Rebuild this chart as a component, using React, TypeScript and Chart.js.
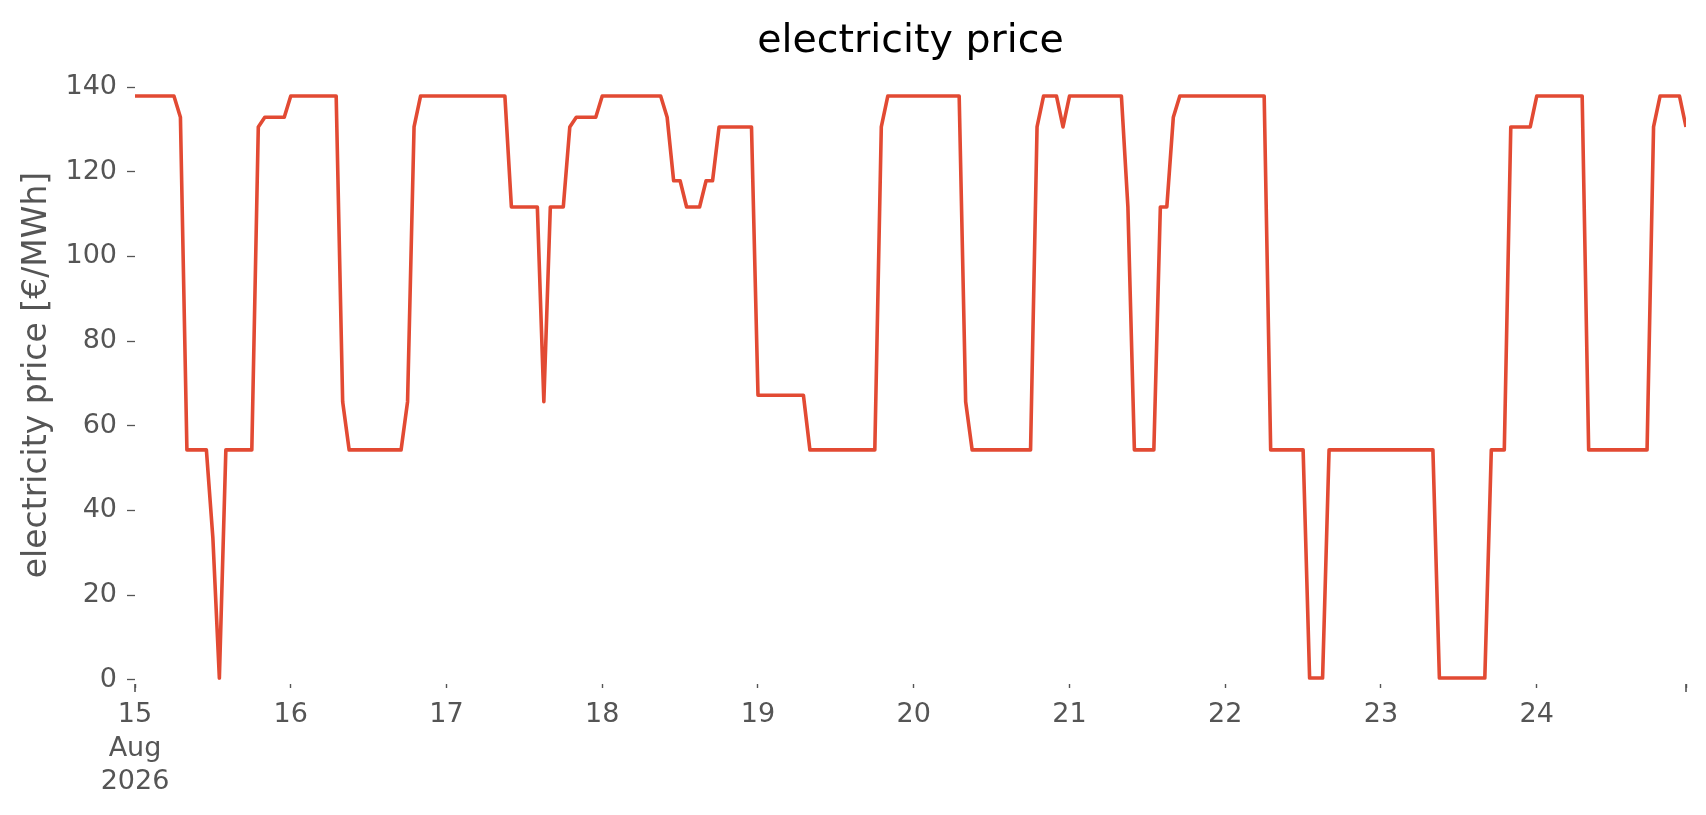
import React, { useEffect, useRef } from 'react';
import { Chart, registerables } from 'chart.js';

Chart.register(...registerables);

const titleText = 'electricity price';
const yAxisLabel = 'electricity price [€/MWh]';
const dayLabels = ['15', '16', '17', '18', '19', '20', '21', '22', '23', '24'];
const monthLabel = 'Aug';
const yearLabel = '2026';
const yTickValues = [0, 20, 40, 60, 80, 100, 120, 140];

// hourly price [€/MWh], 15 Aug 00:00 -> 24 Aug 23:00
const prices = [
  // 15
  137.9, 137.9, 137.9, 137.9, 137.9, 137.9, 137.9, 132.9, 54.3, 54.3, 54.3, 54.3,
  33.5, 0.4, 54.3, 54.3, 54.3, 54.3, 54.3, 130.6, 132.9, 132.9, 132.9, 132.9,
  // 16
  137.9, 137.9, 137.9, 137.9, 137.9, 137.9, 137.9, 137.9, 65.7, 54.3, 54.3, 54.3,
  54.3, 54.3, 54.3, 54.3, 54.3, 54.3, 65.7, 130.6, 137.9, 137.9, 137.9, 137.9,
  // 17
  137.9, 137.9, 137.9, 137.9, 137.9, 137.9, 137.9, 137.9, 137.9, 137.9, 111.7, 111.7,
  111.7, 111.7, 111.7, 65.7, 111.7, 111.7, 111.7, 130.6, 132.9, 132.9, 132.9, 132.9,
  // 18
  137.9, 137.9, 137.9, 137.9, 137.9, 137.9, 137.9, 137.9, 137.9, 137.9, 132.9, 117.9,
  117.9, 111.7, 111.7, 111.7, 117.9, 117.9, 130.6, 130.6, 130.6, 130.6, 130.6, 130.6,
  // 19
  67.2, 67.2, 67.2, 67.2, 67.2, 67.2, 67.2, 67.2, 54.3, 54.3, 54.3, 54.3,
  54.3, 54.3, 54.3, 54.3, 54.3, 54.3, 54.3, 130.6, 137.9, 137.9, 137.9, 137.9,
  // 20
  137.9, 137.9, 137.9, 137.9, 137.9, 137.9, 137.9, 137.9, 65.7, 54.3, 54.3, 54.3,
  54.3, 54.3, 54.3, 54.3, 54.3, 54.3, 54.3, 130.6, 137.9, 137.9, 137.9, 130.6,
  // 21
  137.9, 137.9, 137.9, 137.9, 137.9, 137.9, 137.9, 137.9, 137.9, 111.7, 54.3, 54.3,
  54.3, 54.3, 111.7, 111.7, 132.9, 137.9, 137.9, 137.9, 137.9, 137.9, 137.9, 137.9,
  // 22
  137.9, 137.9, 137.9, 137.9, 137.9, 137.9, 137.9, 54.3, 54.3, 54.3, 54.3, 54.3,
  54.3, 0.4, 0.4, 0.4, 54.3, 54.3, 54.3, 54.3, 54.3, 54.3, 54.3, 54.3,
  // 23
  54.3, 54.3, 54.3, 54.3, 54.3, 54.3, 54.3, 54.3, 54.3, 0.4, 0.4, 0.4,
  0.4, 0.4, 0.4, 0.4, 0.4, 54.3, 54.3, 54.3, 130.6, 130.6, 130.6, 130.6,
  // 24
  137.9, 137.9, 137.9, 137.9, 137.9, 137.9, 137.9, 137.9, 54.3, 54.3, 54.3, 54.3,
  54.3, 54.3, 54.3, 54.3, 54.3, 54.3, 130.6, 137.9, 137.9, 137.9, 137.9, 130.6,
];

const lastHour = prices.length - 1;

// title centred over the plot area (matplotlib style), not the whole canvas
const axesTitle = {
  id: 'axesTitle',
  afterDraw(chart: any) {
    const { ctx, chartArea } = chart;
    ctx.save();
    ctx.font = '39.5px "DejaVu Sans", sans-serif';
    ctx.fillStyle = '#000000';
    ctx.textAlign = 'center';
    ctx.textBaseline = 'alphabetic';
    ctx.fillText(titleText, (chartArea.left + chartArea.right) / 2, chartArea.top - 14);
    ctx.restore();
  },
};

// the first and last x ticks are major ones in the original (longer marks)
const majorTicks = {
  id: 'majorTicks',
  afterDraw(chart: any) {
    const x = chart.scales.x;
    const ctx = chart.ctx;
    ctx.save();
    ctx.strokeStyle = '#555555';
    ctx.lineWidth = 1.6;
    [0, lastHour].forEach((v) => {
      const px = x.getPixelForValue(v);
      ctx.beginPath();
      ctx.moveTo(px, x.top);
      ctx.lineTo(px, x.top + 8);
      ctx.stroke();
    });
    ctx.restore();
  },
};

const App = () => {
  const chartRef = useRef<HTMLCanvasElement>(null);

  useEffect(() => {
    Chart.defaults.font.family = '"DejaVu Sans", sans-serif';
    const chart = new Chart(chartRef.current!, {
      type: 'line',
      data: {
        datasets: [{
          label: titleText,
          data: prices.map((p, i) => ({ x: i, y: p })),
          borderColor: '#E24A33',
          borderWidth: 3.6,
          pointRadius: 0,
          tension: 0,
          borderJoinStyle: 'round',
        }],
      },
      options: {
        animation: false,
        responsive: false,
        layout: { padding: { left: 0, right: 20, top: 66, bottom: 0 } },
        plugins: {
          legend: { display: false },
          tooltip: { enabled: false },
          title: { display: false },
        },
        scales: {
          x: {
            type: 'linear',
            min: 0,
            max: lastHour,
            border: { display: false },
            grid: { drawOnChartArea: false, tickLength: 4, tickColor: '#555555', tickWidth: 1.4 },
            afterBuildTicks: (scale: any) => {
              scale.ticks = dayLabels.map((_, i) => ({ value: i * 24 })).concat([{ value: lastHour }]);
            },
            afterFit: (scale: any) => { scale.height = 131; },
            ticks: {
              color: '#555555',
              font: { size: 27, lineHeight: 1.25 },
              padding: 10,
              maxRotation: 0,
              autoSkip: false,
              callback: (value: any) => {
                const v = Number(value);
                if (v === 0) return [dayLabels[0], monthLabel, yearLabel];
                if (v % 24 === 0) return dayLabels[v / 24];
                return '';
              },
            },
          },
          y: {
            min: -1,
            max: 145,
            border: { display: false },
            grid: { drawOnChartArea: false, tickLength: 8, tickColor: '#555555', tickWidth: 1.3 },
            afterBuildTicks: (scale: any) => {
              scale.ticks = yTickValues.map((v) => ({ value: v }));
            },
            afterFit: (scale: any) => { scale.width = 135; },
            ticks: { color: '#555555', font: { size: 27 }, padding: 10 },
            title: {
              display: true,
              text: yAxisLabel,
              color: '#555555',
              font: { size: 33 },
              padding: { top: 18, bottom: 0 },
            },
          },
        },
      },
      plugins: [axesTitle, majorTicks],
    });

    return () => chart.destroy();
  }, []);

  return (
    <div style={{ position: 'fixed', left: 0, top: 0, width: 1706, height: 815, background: '#ffffff' }}>
      <canvas ref={chartRef} width={1706} height={815} style={{ display: 'block' }} />
    </div>
  );
};

export default App;
